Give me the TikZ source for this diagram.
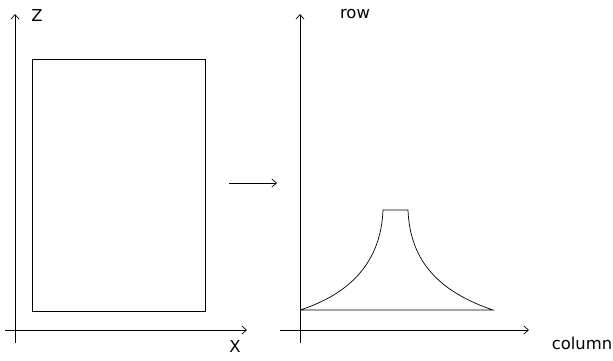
\documentclass[tikz,border=0pt]{standalone}
\usepackage{fontspec}
\setmainfont{DejaVu Sans}
\usetikzlibrary{arrows.meta}

\begin{document}
\begin{tikzpicture}[x=0.03cm, y=-0.03cm, line width=0.6pt,
    axis/.style={-{Straight Barb[length=4pt,width=7pt]}},
    lbl/.style={font=\fontsize{14}{16}\selectfont, inner sep=0pt}]
    \useasboundingbox (0,0) rectangle (613,360);
    % left picture: x-z plane
    \coordinate (zo) at (15,343);
    \coordinate (zt) at (15,14);
    \coordinate (xo) at (5,330);
    \coordinate (xt) at (247,330);
    \draw[axis] (zo) -- (zt);
    \draw[axis] (xo) -- (xt);
    \node[lbl] (zlab) at (37,16) {Z};
    \node[lbl] (xlab) at (235,347) {X};
    \draw (32,59) rectangle (205,311);
    % mapping arrow
    \coordinate (ma) at (229,183);
    \coordinate (mb) at (277,183);
    \draw[axis] (ma) -- (mb);
    % right picture: column-row plane
    \coordinate (ro) at (300,343);
    \coordinate (rt) at (300,14);
    \coordinate (co) at (280,330);
    \coordinate (ct) at (529,330);
    \draw[axis] (ro) -- (rt);
    \draw[axis] (co) -- (ct);
    \node[lbl] (rowlab) at (355,14) {row};
    \node[lbl] (collab) at (582,343) {column};
    \draw (300,310) -- (493,310)
          .. controls (440,292) and (410,262) .. (408,210)
          -- (383,210)
          .. controls (381,262) and (350,294) .. (300,310);
\end{tikzpicture}
\end{document}
